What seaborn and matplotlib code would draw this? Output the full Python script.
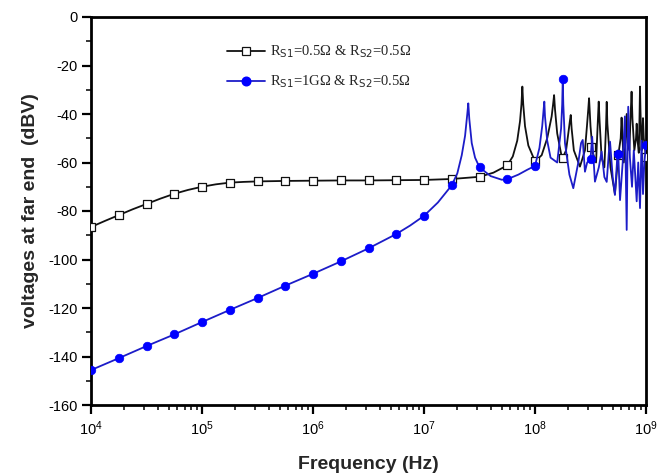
import numpy as np
import pandas as pd
import matplotlib
matplotlib.use("Agg")
import matplotlib.pyplot as plt
import seaborn as sns
from matplotlib.lines import Line2D
from matplotlib.ticker import LogLocator, MultipleLocator, LogFormatterSciNotation, NullFormatter

# ---------------- data (frequency as log10 exponent, voltage in dBV) ----------------
black_exp = [4.0, 4.125, 4.25, 4.375, 4.5, 4.625, 4.75, 4.875, 5.0, 5.125, 5.25, 5.375,
             5.5, 5.75, 6.0, 6.25, 6.5, 6.75, 7.0, 7.25, 7.5, 7.625, 7.75, 7.8, 7.84,
             7.865, 7.878, 7.886, 7.894, 7.91, 7.94, 8.0, 8.06, 8.11, 8.15, 8.163, 8.172,
             8.18, 8.2, 8.24, 8.25, 8.28, 8.3, 8.314, 8.322, 8.33, 8.35, 8.405, 8.45,
             8.468, 8.48, 8.487, 8.5, 8.52, 8.55, 8.566, 8.574, 8.582, 8.6, 8.625,
             8.64, 8.646, 8.652, 8.68, 8.72, 8.75, 8.772, 8.78, 8.788, 8.8, 8.815, 8.826,
             8.836, 8.85, 8.862, 8.87, 8.878, 8.895, 8.91, 8.916, 8.922, 8.935, 8.942,
             8.946, 8.95, 8.96, 8.968, 8.973, 8.98, 9.0]
black_db = [-86.6, -84.1, -81.7, -79.3, -77.1, -74.9, -72.9, -71.3, -70.0, -69.0, -68.3, -68.0,
            -67.8, -67.6, -67.5, -67.4, -67.4, -67.3, -67.2, -66.8, -65.9, -64.2, -61.2, -57.5, -51,
            -43, -36, -28.7, -36, -45, -53, -59.5, -57, -50, -41, -36, -32.2,
            -38, -48, -57.5, -58.0, -55, -48, -43, -40.4, -46, -55, -61.7, -55,
            -45, -38, -33.5, -45, -56, -60, -43, -34.9, -43, -58, -62,
            -45, -35.0, -44, -62, -73, -57, -50, -41.5, -50, -60, -52, -40,
            -52, -55, -40, -30.8, -42, -55, -50, -44, -50, -56, -40,
            -28.7, -38, -55, -48, -41.7, -50, -57.6]

blue_exp = [4.0, 4.25, 4.5, 4.75, 5.0, 5.25, 5.5, 5.75, 6.0, 6.25, 6.5, 6.75, 6.875, 7.0,
            7.125, 7.25, 7.3, 7.34, 7.37, 7.39, 7.399, 7.408, 7.43, 7.46, 7.5, 7.6, 7.7,
            7.75, 7.85, 7.93, 8.0, 8.04, 8.065, 8.078, 8.084, 8.09, 8.11, 8.14, 8.2, 8.235,
            8.245, 8.25, 8.255, 8.27, 8.31, 8.345, 8.39, 8.415, 8.43, 8.45, 8.47, 8.5,
            8.515, 8.54, 8.575, 8.6, 8.625, 8.646, 8.665, 8.676, 8.7, 8.72, 8.745, 8.75,
            8.766, 8.79, 8.81, 8.826, 8.834, 8.84, 8.855, 8.874, 8.89, 8.916, 8.93, 8.946,
            8.96, 8.973, 8.985, 9.0]
blue_db = [-145.6, -140.7, -135.7, -130.9, -125.8, -120.8, -115.9, -110.8, -105.9, -100.8, -95.4, -89.5, -86.0, -82.0,
           -76.5, -69.4, -64.5, -57, -49, -40, -35.6, -42, -52, -58, -62.0, -65.6, -67.1,
           -66.9, -65, -63, -61.4, -54, -45, -38, -34.9, -41, -51, -58, -60, -46,
           -36, -25.6, -36, -52, -65, -70.6, -60, -52, -50.7, -63.8, -60, -58.6,
           -49.4, -67.9, -62, -55.5, -66, -68, -56, -51.4, -66, -73.4, -55, -56.6,
           -75.5, -60, -41, -87.8, -55, -37, -58, -70, -55, -76, -60, -78.8,
           -51, -73, -60, -52.8]

marker_exp = [4.0, 4.25, 4.5, 4.75, 5.0, 5.25, 5.5, 5.75, 6.0, 6.25, 6.5, 6.75, 7.0,
              7.25, 7.5, 7.75, 8.0, 8.25, 8.5, 8.75, 9.0]
black_marker_db = [-86.6, -81.7, -77.1, -72.9, -70.0, -68.3, -67.8, -67.6, -67.5, -67.4, -67.4,
                   -67.3, -67.2, -66.8, -65.9, -61.2, -59.5, -58.0, -53.5, -57, -57.6]
blue_marker_db = [-145.6, -140.7, -135.7, -130.9, -125.8, -120.8, -115.9, -110.8, -105.9, -100.8,
                  -95.4, -89.5, -82.0, -69.4, -62.0, -66.9, -61.4, -25.6, -58.6, -56.6, -52.8]

legend_labels = [r"R$_{\mathrm{S1}}$=0.5Ω & R$_{\mathrm{S2}}$=0.5Ω",
                 r"R$_{\mathrm{S1}}$=1GΩ & R$_{\mathrm{S2}}$=0.5Ω"]
x_label = "Frequency (Hz)"
y_label = "voltages at far end  (dBV)"

# ---------------- frames ----------------
black_df = pd.DataFrame({"f": 10.0 ** np.array(black_exp), "v": black_db})
blue_df = pd.DataFrame({"f": 10.0 ** np.array(blue_exp), "v": blue_db})
mk_df = pd.DataFrame({"f": 10.0 ** np.array(marker_exp), "black": black_marker_db, "blue": blue_marker_db})

sns.set_style("white")
plt.rcParams["font.family"] = ["Liberation Sans", "DejaVu Sans"]
plt.rcParams["mathtext.default"] = "regular"
plt.rcParams["axes.unicode_minus"] = False

BLACK = "#111111"
BLUE_LINE = "#1c1cc8"
BLUE_MK = "#0000ff"

fig = plt.figure(figsize=(6.57, 4.75), dpi=100)
ax = fig.add_axes([91 / 657, 1 - 405 / 475, 555 / 657, 388 / 475])
ax.set_xscale("log")

sns.lineplot(data=black_df, x="f", y="v", ax=ax, color=BLACK, lw=1.3,
             estimator=None, sort=False, legend=False, zorder=2)
sns.scatterplot(data=mk_df, x="f", y="black", ax=ax, marker="s", s=30,
                facecolor="white", edgecolor=BLACK, linewidth=0.9, zorder=3, legend=False)
sns.lineplot(data=blue_df, x="f", y="v", ax=ax, color=BLUE_LINE, lw=1.3,
             estimator=None, sort=False, legend=False, zorder=4)
sns.scatterplot(data=mk_df, x="f", y="blue", ax=ax, marker="o", s=38,
                color=BLUE_MK, edgecolor=BLUE_MK, linewidth=0.5, zorder=5, legend=False)

ax.set_xlim(1e4, 1e9)
ax.set_ylim(-160, 0)
ax.xaxis.set_major_locator(LogLocator(base=10, numticks=10))
ax.xaxis.set_minor_locator(LogLocator(base=10, subs=np.arange(2, 10), numticks=20))
ax.xaxis.set_major_formatter(LogFormatterSciNotation())
ax.xaxis.set_minor_formatter(NullFormatter())
ax.yaxis.set_major_locator(MultipleLocator(20))
ax.yaxis.set_minor_locator(MultipleLocator(10))

for sp in ax.spines.values():
    sp.set_linewidth(2.0)
    sp.set_color("black")
ax.tick_params(which="major", direction="out", length=6.5, width=1.6, labelsize=10.5,
               bottom=True, left=True, colors="black")
ax.tick_params(axis="x", which="major", pad=4)
ax.tick_params(axis="y", which="major", pad=3)
ax.tick_params(which="minor", direction="out", length=3.8, width=1.3, bottom=True, left=True)

ax.set_xlabel(x_label, fontsize=14, fontweight="bold", labelpad=13)
ax.set_ylabel(y_label, fontsize=14, fontweight="bold", labelpad=7)

handles = [
    Line2D([], [], color=BLACK, lw=1.3, marker="s", markersize=5.5,
           markerfacecolor="white", markeredgecolor=BLACK, markeredgewidth=0.9),
    Line2D([], [], color=BLUE_LINE, lw=1.3, marker="o", markersize=6.2,
           markerfacecolor=BLUE_MK, markeredgecolor=BLUE_MK),
]
ax.legend(handles, legend_labels, loc="upper left", bbox_to_anchor=(0.222, 0.965),
          frameon=False, handlelength=2.6, handletextpad=0.35, labelspacing=0.95,
          prop={"family": ["Liberation Serif", "DejaVu Serif"], "size": 10.5})

fig.savefig("out.png", dpi=100)
